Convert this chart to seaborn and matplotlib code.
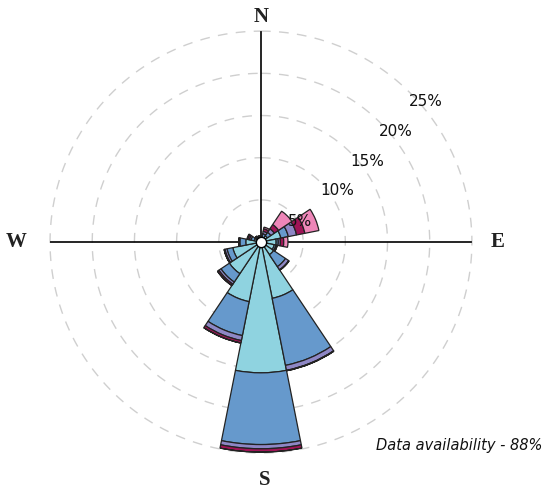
import numpy as np
import matplotlib
matplotlib.use("Agg")
import matplotlib.pyplot as plt
import seaborn as sns

# 16 compass sectors, clockwise from north
directions = ["N", "NNE", "NE", "ENE", "E", "ESE", "SE", "SSE",
              "S", "SSW", "SW", "WSW", "W", "WNW", "NW", "NNW"]

# frequency (%) per speed class, stacked from the centre outwards
speed_1 = [0.4, 0.6, 0.9, 2.4, 1.8, 1.6, 1.8, 6.8, 15.5, 7.2, 4.5, 3.4, 1.8, 0.8, 0.5, 0.4]
speed_2 = [0.2, 0.4, 0.5, 0.9, 0.25, 0.2, 1.7, 8.1, 8.5, 4.1, 1.2, 0.7, 0.7, 0.4, 0.2, 0.2]
speed_3 = [0.1, 0.3, 0.5, 1.0, 0.25, 0.1, 0.45, 0.6, 0.5, 0.6, 0.3, 0.25, 0.1, 0.2, 0.1, 0.1]
speed_4 = [0.05, 0.3, 0.6, 1.0, 0.4, 0.05, 0.05, 0.05, 0.4, 0.3, 0.2, 0.1, 0.05, 0.2, 0.05, 0.05]
speed_5 = [0.0, 0.2, 1.9, 1.7, 0.5, 0.0, 0.0, 0.0, 0.0, 0.0, 0.0, 0.0, 0.0, 0.1, 0.0, 0.0]

ring_values = [5, 10, 15, 20, 25]
ring_labels = ["5%", "10%", "15%", "20%", "25%"]
availability = "Data availability - 88%"

sns.set_style("white")
colors = ["#8FD3E0", "#6699CC", "#8E87C5", "#9E1456", "#EE86B8"]

fig = plt.figure(figsize=(5.45, 4.94), dpi=100)
ax = fig.add_axes([0.0917, 0.083, 0.7743, 0.854], projection="polar")
ax.set_theta_zero_location("N")
ax.set_theta_direction(-1)
ax.set_ylim(0, 25)
ax.grid(False)
ax.set_xticks([])
ax.set_yticks([])
ax.spines["polar"].set_visible(False)
ax.patch.set_alpha(0)

# dashed rings
full = np.linspace(0, 2 * np.pi, 400)
for r in ring_values:
    ax.plot(full, np.full_like(full, r), ls=(0, (7, 6)), color="#cfcfcf",
            lw=1, zorder=1, clip_on=False)

# cross lines
for a in [0, np.pi / 2, np.pi, 3 * np.pi / 2]:
    ax.plot([a, a], [0, 25], color="black", lw=1.2, zorder=1.5)

theta = np.deg2rad(np.arange(16) * 22.5)
width = np.deg2rad(22.5)
bottom = np.zeros(16)
for vals, c in zip([speed_1, speed_2, speed_3, speed_4, speed_5], colors):
    vals = np.array(vals)
    ax.bar(theta, vals, width=width, bottom=bottom, color=c,
           edgecolor="#222222", linewidth=0.9, zorder=2)
    bottom = bottom + vals

ax.scatter([0], [0], s=55, color="white", edgecolor="black", linewidth=1, zorder=5)

# ring labels (compass angle, radius)
label_pos = [(61.7, 5.25), (55.6, 10.9), (52.6, 15.8), (50.6, 20.7), (49.5, 25.7)]
for (ang, r), txt in zip(label_pos, ring_labels):
    ax.text(np.deg2rad(ang), r, txt, ha="center", va="center", fontsize=11,
            family="DejaVu Sans", color="#111111", zorder=6, clip_on=False)

compass = [("N", 0, 26.7), ("E", 90, 28.0), ("S", 179, 28.2), ("W", 270, 29.0)]
for txt, ang, r in compass:
    ax.text(np.deg2rad(ang), r, txt, ha="center", va="center", fontsize=15,
            fontweight="bold", family="Liberation Serif", color="#222222", clip_on=False)

fig.text(0.996, 0.099, availability, ha="right", va="center", fontsize=10.5,
         style="italic", family="DejaVu Sans", color="#111111")

fig.savefig("out.png", dpi=100)
